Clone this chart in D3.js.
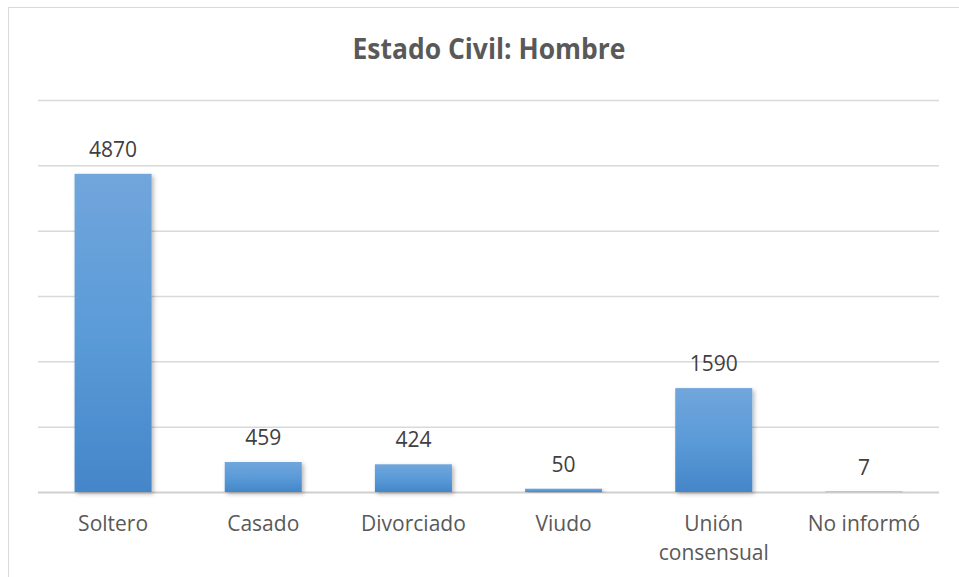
<!DOCTYPE html>
<html>
<head>
<meta charset="utf-8">
<script src="https://cdn.jsdelivr.net/npm/d3@7"></script>
<style>
  html, body { margin: 0; padding: 0; background: #fff; }
  svg { display: block; }
</style>
</head>
<body>
<svg id="chart" width="959" height="577"></svg>
<script>
const title = "Estado Civil: Hombre";
const categories = ["Soltero", "Casado", "Divorciado", "Viudo", "Unión consensual", "No informó"];
const values = [4870, 459, 424, 50, 1590, 7];
const yTicks = [0, 1000, 2000, 3000, 4000, 5000, 6000];

const svg = d3.select("#chart");
const W = 959, H = 577;

// outer chart border (extends past right/bottom edges)
svg.append("rect")
  .attr("x", 8.5).attr("y", 7.5)
  .attr("width", W).attr("height", H)
  .attr("fill", "#fff")
  .attr("stroke", "#d9d9d9").attr("stroke-width", 1);

const defs = svg.append("defs");
const grad = defs.append("linearGradient").attr("id", "barGrad")
  .attr("x1", 0).attr("y1", 0).attr("x2", 0).attr("y2", 1);
grad.append("stop").attr("offset", "0%").attr("stop-color", "#71a6dc");
grad.append("stop").attr("offset", "50%").attr("stop-color", "#5b9bd8");
grad.append("stop").attr("offset", "100%").attr("stop-color", "#4486c9");

const filt = defs.append("filter").attr("id", "shadow")
  .attr("x", "-20%").attr("y", "-20%").attr("width", "140%").attr("height", "140%");
filt.append("feDropShadow").attr("dx", 2).attr("dy", 2).attr("stdDeviation", 2)
  .attr("flood-color", "#000").attr("flood-opacity", 0.28);

const x = d3.scaleBand()
  .domain(categories)
  .range([38, 939])
  .paddingInner(0.487)
  .paddingOuter(0.2435);

const y = d3.scaleLinear()
  .domain([0, 6000])
  .range([492, 100]);

// gridlines
const grid = svg.append("g").attr("class", "grid")
  .attr("transform", "translate(38,0)")
  .call(d3.axisLeft(y).tickValues(yTicks).tickSize(-(939 - 38)).tickFormat(""));
grid.select(".domain").remove();
grid.selectAll(".tick line").attr("stroke", "#d9d9d9").attr("stroke-width", 1.5);
grid.selectAll(".tick").filter(d => d === 0).select("line").attr("stroke", "#d0d0d0").attr("stroke-width", 2);

// title
svg.append("text")
  .attr("x", 489).attr("y", 59)
  .attr("text-anchor", "middle")
  .attr("font-family", "'Open Sans', sans-serif")
  .attr("font-weight", "bold")
  .attr("font-size", 29)
  .attr("textLength", 273)
  .attr("lengthAdjust", "spacingAndGlyphs")
  .attr("fill", "#595959")
  .text(title);

// bars
svg.append("g").selectAll("rect")
  .data(values)
  .join("rect")
  .attr("x", (d, i) => x(categories[i]))
  .attr("y", d => y(d))
  .attr("width", x.bandwidth())
  .attr("height", d => y(0) - y(d))
  .attr("fill", "url(#barGrad)")
  .attr("filter", "url(#shadow)");

// value labels
svg.append("g").selectAll("text")
  .data(values)
  .join("text")
  .attr("x", (d, i) => x(categories[i]) + x.bandwidth() / 2)
  .attr("y", d => y(d) - 17)
  .attr("text-anchor", "middle")
  .attr("font-family", "'Open Sans', sans-serif")
  .attr("font-size", 21)
  .attr("fill", "#404040")
  .text(d => d);

// category axis labels (wrapped)
const xAxis = svg.append("g")
  .attr("transform", "translate(0,492)")
  .call(d3.axisBottom(x).tickSize(0).tickPadding(0));
xAxis.select(".domain").remove();
xAxis.selectAll(".tick text").remove();
xAxis.selectAll(".tick").each(function(d) {
  const g = d3.select(this);
  const t = g.append("text")
    .attr("text-anchor", "middle")
    .attr("font-family", "'Open Sans', sans-serif")
    .attr("font-size", 21)
    .attr("fill", "#595959");
  const words = d.split(" ");
  const maxW = x.step() - 4;
  let lines = [], cur = [];
  const probe = t.append("tspan");
  words.forEach(w => {
    const test = cur.concat([w]).join(" ");
    probe.text(test);
    if (probe.node().getComputedTextLength() > maxW && cur.length) {
      lines.push(cur.join(" "));
      cur = [w];
    } else {
      cur.push(w);
    }
  });
  lines.push(cur.join(" "));
  probe.remove();
  lines.forEach((ln, i) => {
    t.append("tspan").attr("x", 0).attr("y", 39 + i * 29).text(ln);
  });
});
</script>
</body>
</html>
